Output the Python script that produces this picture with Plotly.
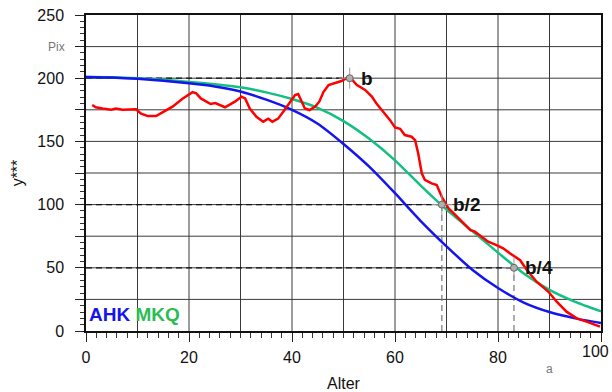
import plotly.graph_objects as go

# ---- data ----
red_x = [1.2, 1.9, 3.2, 4.9, 5.8, 7.1, 9.7, 10.7, 12.0, 13.6,
         15.1, 16.8, 18.8, 20.7, 21.4, 22.3, 24.2, 25.1, 27.0, 28.9,
         30.2, 30.9, 31.8, 33.1, 34.4, 35.4, 36.2, 37.3, 38.3, 39.6,
         40.6, 41.2, 41.9, 42.5, 43.4, 44.5, 45.3, 46.1, 47.1, 48.3,
         49.6, 50.6, 51.2, 52.6, 54.2, 55.5, 56.4, 57.7, 59.0, 60.0,
         61.0, 61.9, 63.2, 63.9, 64.5, 65.2, 65.8, 67.1, 68.1, 69.1,
         70.4, 71.7, 73.3, 74.6, 75.5, 76.8, 78.1, 79.7, 81.0, 82.3,
         84.3, 85.6, 87.5, 89.8, 91.4, 93.3, 95.3, 97.2, 99.8]
red_y = [178.8, 177, 176, 175, 176, 175, 175.4, 172, 170, 170,
         173.5, 177.5, 184, 189, 188, 184, 179.6, 180.3, 177, 181.4,
         185.4, 184, 176, 169.5, 165.6, 168, 165.6, 168, 173.5, 181.4,
         186.7, 187.5, 181.4, 176, 174.8, 177.5, 181.4, 189, 194.6, 196,
         197.8, 200, 201, 194.6, 190.7, 185.4, 180, 173.5, 167, 161,
         160, 155, 153.7, 151, 140.6, 124.8, 119.5, 116.8, 115.5, 106,
         97, 91.8, 85, 80, 78.6, 74.6, 70.6, 68, 65.4, 61.5,
         56, 48.3, 39, 31, 23.2, 15.3, 10, 7.4, 3.4]

model_x = [0, 5, 10, 15, 20, 25, 30, 35, 40, 45, 50, 55, 60, 65, 70, 75, 80, 85, 90, 95, 100]
ahk_y = [201, 200.5, 199.5, 198, 196, 193.5, 189.5, 183, 175, 164, 148, 130, 109, 87, 67, 48.5, 34, 22.5, 15, 10, 6.3]
mkq_y = [201, 200.7, 200, 198.8, 197, 195.2, 192.8, 188.8, 183.5, 176.5, 166, 152, 135, 115, 96, 79, 62, 45.5, 32.5, 23, 15.5]

b_x = [51.2, 69.1, 83.1]
b_y = [200, 100, 50]
b_labels = ["b", "b/2", "b/4"]

x_tick_vals = [0, 20, 40, 60, 80, 100]
x_tick_text = ["0", "20", "40", "60", "80", ""]
x_last_label = "100"
y_tick_vals = [0, 25, 50, 75, 100, 125, 150, 175, 200, 225, 250]
y_tick_text = ["0", "", "50", "", "100", "", "150", "", "200", "", "250"]
x_grid = [10, 20, 30, 40, 50, 60, 70, 80, 90]
y_grid = [25, 50, 75, 100, 125, 150, 175, 200, 225]

BLUE = "#1414f0"
GREEN = "#14bf80"
RED = "#ff0000"
FONT = "Liberation Sans, Arial, sans-serif"

fig = go.Figure()

shapes = []
for gx in x_grid:
    shapes.append(dict(type="line", xref="x", yref="paper", x0=gx, x1=gx, y0=0, y1=1,
                       line=dict(color="#3a3a3a", width=1), layer="below"))
for gy in y_grid:
    shapes.append(dict(type="line", xref="paper", yref="y", x0=0, x1=1, y0=gy, y1=gy,
                       line=dict(color="#3a3a3a", width=1), layer="below"))
# dashed guide lines
for bx, by in zip(b_x, b_y):
    shapes.append(dict(type="line", xref="x", yref="y", x0=0, x1=bx, y0=by, y1=by,
                       line=dict(color="#111111", width=1.2, dash="6px,4px"), layer="below"))
for bx, by in zip(b_x[1:], b_y[1:]):
    shapes.append(dict(type="line", xref="x", yref="y", x0=bx, x1=bx, y0=0, y1=by,
                       line=dict(color="#777777", width=1.2, dash="6px,4px"), layer="below"))

fig.add_trace(go.Scatter(x=model_x, y=mkq_y, mode="lines", line=dict(color=GREEN, width=2.5, shape="spline", smoothing=0.6),
                         showlegend=False, hoverinfo="skip"))
fig.add_trace(go.Scatter(x=model_x, y=ahk_y, mode="lines", line=dict(color=BLUE, width=2.5, shape="spline", smoothing=0.6),
                         showlegend=False, hoverinfo="skip"))
fig.add_trace(go.Scatter(x=red_x, y=red_y, mode="lines", line=dict(color=RED, width=2.5),
                         showlegend=False, hoverinfo="skip"))
fig.add_trace(go.Scatter(x=b_x, y=b_y, mode="markers",
                         marker=dict(symbol="cross-thin", size=15, line=dict(color="#999999", width=1)),
                         showlegend=False, hoverinfo="skip"))
fig.add_trace(go.Scatter(x=b_x, y=b_y, mode="markers",
                         marker=dict(symbol="circle", size=7, color="#b0b0b0", line=dict(color="#666666", width=1)),
                         showlegend=False, hoverinfo="skip"))

annotations = []
for bx, by, lab in zip(b_x, b_y, b_labels):
    annotations.append(dict(x=bx, y=by, xref="x", yref="y", text="<b>" + lab + "</b>", showarrow=False,
                            xanchor="left", yanchor="middle", xshift=9, yshift=0,
                            font=dict(family=FONT, size=19, color="#111111")))
annotations.append(dict(x=0, y=0, xref="x", yref="y", xanchor="left", yanchor="bottom", xshift=1, yshift=4,
                        text="<b><span style='color:%s'>AHK</span> <span style='color:#2cbc55'>MKQ</span></b>" % BLUE,
                        showarrow=False, font=dict(family=FONT, size=19)))
annotations.append(dict(x=0, y=225, xref="paper", yref="y", xanchor="right", yanchor="middle", xshift=-19,
                        text="Pix", showarrow=False, font=dict(family=FONT, size=12, color="#777777")))
annotations.append(dict(x=90, y=0, xref="x", yref="paper", xanchor="center", yanchor="top", yshift=-29, xshift=0,
                        text="a", showarrow=False, font=dict(family=FONT, size=12, color="#777777")))
annotations.append(dict(x=1, y=0, xref="paper", yref="paper", xanchor="right", yanchor="top", xshift=10, yshift=-10,
                        text=x_last_label, showarrow=False, font=dict(family=FONT, size=16, color="#111111")))

fig.update_layout(
    width=612, height=392,
    margin=dict(l=86, r=11, t=15, b=61),
    paper_bgcolor="white", plot_bgcolor="white",
    shapes=shapes, annotations=annotations,
    font=dict(family=FONT, size=16, color="#111111"),
    xaxis=dict(range=[0, 100], tickmode="array", tickvals=x_tick_vals, ticktext=x_tick_text, ticks="outside", ticklen=9,
               tickcolor="#222222", showgrid=False, zeroline=False, showline=True, linecolor="#111111",
               linewidth=1.5, mirror=True, ticklabelstandoff=2, automargin=False,
               tickfont=dict(family=FONT, size=16),
               minor=dict(dtick=2, ticks="outside", ticklen=5, tickcolor="#333333", showgrid=False),
               title=dict(text="Alter", font=dict(family=FONT, size=16), standoff=14)),
    yaxis=dict(range=[0, 250], tickmode="array", tickvals=y_tick_vals, ticktext=y_tick_text, ticks="outside",
               ticklen=9, tickcolor="#222222", showgrid=False, zeroline=False, showline=True, linecolor="#111111",
               linewidth=1.5, mirror=True, ticklabelstandoff=8, automargin=False, ticklabeloverflow="allow",
               tickfont=dict(family=FONT, size=16),
               minor=dict(dtick=5, ticks="outside", ticklen=4, tickcolor="#333333", showgrid=False),
               title=dict(text="y***", font=dict(family=FONT, size=16), standoff=10)),
)

fig.write_html("out.html", config={"displayModeBar": False},
               post_script="document.body.style.margin='0px';document.body.style.padding='0px';")
